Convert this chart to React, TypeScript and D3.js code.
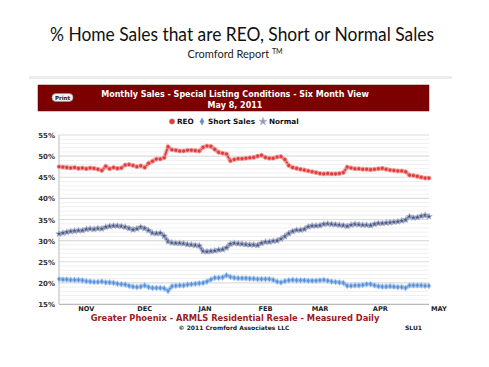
import React from 'react';
import * as d3 from 'd3';

// daily readings sampled every 2 days, starting Oct 19, 2010
const startDate = new Date(2010, 9, 19);
const endDate = new Date(2011, 3, 27);
const stepDays = 2;

const reo = [
  47.5, 47.4, 47.3, 47.2, 47.3, 47.1, 47.2, 47.0, 47.2, 47.1,
  46.9, 46.6, 47.6, 47.0, 47.3, 47.1, 47.2, 47.9, 48.0, 47.8,
  47.5, 47.7, 47.3, 48.3, 48.8, 49.3, 49.3, 49.6, 52.2, 51.5,
  51.4, 51.2, 51.2, 51.4, 51.4, 51.3, 51.2, 52.1, 52.4, 52.3,
  51.6, 50.9, 50.7, 50.5, 48.9, 49.2, 49.4, 49.4, 49.5, 49.6,
  49.7, 50.0, 50.2, 49.7, 49.5, 49.5, 49.8, 49.9, 49.2, 47.8,
  47.3, 47.1, 46.9, 46.7, 46.5, 46.3, 46.1, 45.9, 45.8, 45.9,
  45.8, 45.8, 45.9, 46.1, 47.4, 47.2, 47.0, 47.0, 46.9, 46.9,
  46.8, 46.9, 47.0, 47.1, 46.9, 46.7, 46.6, 46.5, 46.5, 46.3,
  45.5, 45.4, 45.2, 45.0, 44.8, 44.8,
];

const shortSales = [
  20.9, 20.8, 20.8, 20.7, 20.7, 20.7, 20.6, 20.4, 20.3, 20.2,
  20.2, 20.3, 20.1, 20.1, 20.0, 19.8, 19.7, 19.6, 19.3, 19.1,
  19.0, 19.1, 19.4, 19.0, 18.8, 18.8, 18.8, 18.7, 18.1, 19.2,
  19.3, 19.4, 19.4, 19.6, 19.7, 19.8, 19.9, 20.0, 20.3, 20.8,
  21.2, 21.2, 21.3, 21.8, 21.4, 21.2, 21.1, 21.1, 21.1, 21.0,
  21.0, 20.9, 20.9, 20.9, 20.9, 20.7, 20.3, 20.1, 20.4, 20.6,
  20.7, 20.6, 20.6, 20.6, 20.5, 20.5, 20.5, 20.6, 20.7, 20.5,
  20.3, 20.2, 20.1, 20.0, 19.3, 19.3, 19.4, 19.4, 19.5, 19.7,
  19.7, 19.4, 19.2, 19.1, 19.1, 19.2, 19.1, 19.0, 19.0, 18.8,
  19.4, 19.4, 19.4, 19.4, 19.3, 19.3,
];

const normal = [
  31.6, 31.8, 32.0, 32.2, 32.3, 32.4, 32.4, 32.7, 32.8, 32.7,
  32.9, 32.8, 33.2, 33.4, 33.5, 33.5, 33.4, 33.2, 32.9, 32.6,
  32.8, 33.2, 32.9, 32.4, 31.8, 31.7, 31.8, 31.1, 29.8, 29.5,
  29.4, 29.4, 29.3, 29.1, 29.0, 28.9, 28.8, 27.5, 27.4, 27.5,
  27.6, 27.8, 27.9, 28.3, 29.2, 29.4, 29.3, 29.2, 29.1, 29.0,
  29.0, 28.9, 29.4, 29.7, 29.7, 29.9, 30.0, 30.4, 31.0, 31.7,
  32.2, 32.5, 32.5, 32.7, 33.3, 33.5, 33.5, 33.6, 33.9, 34.0,
  33.9, 33.8, 33.7, 33.6, 33.4, 33.7, 33.9, 33.8, 33.7, 33.7,
  33.6, 33.9, 34.1, 34.1, 34.2, 34.3, 34.4, 34.5, 34.7, 34.9,
  35.7, 35.4, 35.5, 35.8, 36.0, 35.7,
];

const monthLabels = ['NOV', 'DEC', 'JAN', 'FEB', 'MAR', 'APR', 'MAY'];
const monthDates = [
  new Date(2010, 10, 1), new Date(2010, 11, 1), new Date(2011, 0, 1),
  new Date(2011, 1, 1), new Date(2011, 2, 1), new Date(2011, 3, 1), new Date(2011, 4, 1),
];
const yTicks = [15, 20, 25, 30, 35, 40, 45, 50, 55];

const dateAt = (i: number) => d3.timeDay.offset(startDate, i * stepDays);

const vfont = '"DejaVu Sans", Verdana, sans-serif';

function Series({ values, x, y, color, halo, symbol, size }: any) {
  const line = d3.line<number>()
    .x((d, i) => x(dateAt(i)))
    .y(d => y(d));
  const sym = d3.symbol().type(symbol).size(size)();
  return (
    <g>
      <path d={line(values) || ''} fill="none" stroke={halo} strokeWidth={4.5} />
      <path d={line(values) || ''} fill="none" stroke={color} strokeWidth={1.8} />
      {values.map((v: number, i: number) => (
        <path key={i} d={sym || ''} transform={`translate(${x(dateAt(i))},${y(v)})`}
          fill={color} stroke={halo} strokeWidth={0.6} />
      ))}
    </g>
  );
}

export default function App() {
  const x = d3.scaleTime().domain([startDate, endDate]).range([59, 429]);
  const y = d3.scaleLinear().domain([15, 55]).range([304, 135]);
  const minor = d3.range(15, 56, 1).filter(v => v % 5 !== 0);

  const reoColor = '#e03c3c';
  const shortColor = '#5590d8';
  const normalColor = '#4a5886';

  return (
    <svg width={489} height={367} style={{ position: 'absolute', left: 0, top: 0, background: '#fff' }}>
      <text x={242} y={41} textAnchor="middle" fontFamily="Lato, sans-serif" fontSize={18.5}
        textLength={384} lengthAdjust="spacingAndGlyphs" fill="#111">
        % Home Sales that are REO, Short or Normal Sales
      </text>
      <text x={235} y={58} textAnchor="middle" fontFamily="Lato, sans-serif" fontSize={11} fill="#222">
        Cromford Report <tspan fontSize={7} dy={-4}>TM</tspan>
      </text>
      <rect x={29} y={76} width={423} height={3} fill="#ececec" />

      {/* header */}
      <rect x={38} y={85} width={391} height={26} fill="#7d0000" stroke="#5a0000" strokeWidth={0.5} />
      <rect x={52} y={93.5} width={21} height={8} rx={4} fill="#eee" stroke="#999" strokeWidth={0.6} />
      <text x={62.5} y={100} textAnchor="middle" fontFamily={vfont} fontWeight="bold" fontSize={5.5} fill="#222">Print</text>
      <text x={235} y={97} textAnchor="middle" fontFamily={vfont} fontWeight="bold" fontSize={8} fill="#fff">
        Monthly Sales - Special Listing Conditions - Six Month View
      </text>
      <text x={235} y={108} textAnchor="middle" fontFamily={vfont} fontWeight="bold" fontSize={8} fill="#fff">
        May 8, 2011
      </text>

      {/* legend */}
      <g fontFamily={vfont} fontWeight="bold" fontSize={7.3} fill="#111">
        <path d={d3.symbol().type(d3.symbolCircle).size(24)() || ''} transform="translate(172,121.5)" fill={reoColor} stroke="#aaa" strokeWidth={0.5} />
        <text x={177} y={124}>REO</text>
        <path d={d3.symbol().type(d3.symbolDiamond).size(16)() || ''} transform="translate(202,121.5)" fill={shortColor} stroke="#aaa" strokeWidth={0.5} />
        <text x={208} y={124}>Short Sales</text>
        <path d={d3.symbol().type(d3.symbolStar).size(20)() || ''} transform="translate(263,121.5)" fill="#8a9ac4" stroke="#aaa" strokeWidth={0.5} />
        <text x={269} y={124}>Normal</text>
      </g>

      {/* grid */}
      {minor.map(v => (
        <line key={'m' + v} x1={59} x2={429} y1={y(v)} y2={y(v)} stroke="#f0f0f0" strokeWidth={1} />
      ))}
      {yTicks.map(v => (
        <line key={'g' + v} x1={59} x2={429} y1={y(v)} y2={y(v)} stroke="#dcdcdc" strokeWidth={1.2} />
      ))}
      <line x1={59} x2={59} y1={135} y2={304} stroke="#bbb" />
      <line x1={59} x2={429} y1={304.5} y2={304.5} stroke="#bbb" />
      {yTicks.map(v => (
        <text key={'t' + v} x={55} y={y(v) + 3} textAnchor="end" fontFamily={vfont} fontWeight="bold" fontSize={7} fill="#333">
          {v}%
        </text>
      ))}
      {monthDates.map((d, i) => (
        <text key={monthLabels[i]} x={x(d) + 2} y={311} textAnchor="middle" fontFamily={vfont} fontWeight="bold" fontSize={6.6} fill="#222">
          {monthLabels[i]}
        </text>
      ))}

      <Series values={reo} x={x} y={y} color={reoColor} halo="#f3b9b9" symbol={d3.symbolCircle} size={13} />
      <Series values={normal} x={x} y={y} color={normalColor} halo="#b9bfd3" symbol={d3.symbolStar} size={13} />
      <Series values={shortSales} x={x} y={y} color={shortColor} halo="#bcd4f0" symbol={d3.symbolDiamond} size={11} />

      <text x={235} y={321} textAnchor="middle" fontFamily={vfont} fontWeight="bold" fontSize={8.3} fill="#9a1c1c">
        Greater Phoenix - ARMLS Residential Resale - Measured Daily
      </text>
      <text x={234} y={330} textAnchor="middle" fontFamily={vfont} fontWeight="bold" fontSize={6} fill="#222">
        © 2011 Cromford Associates LLC
      </text>
      <text x={405} y={330} fontFamily={vfont} fontWeight="bold" fontSize={6} fill="#222">SLU1</text>
    </svg>
  );
}
